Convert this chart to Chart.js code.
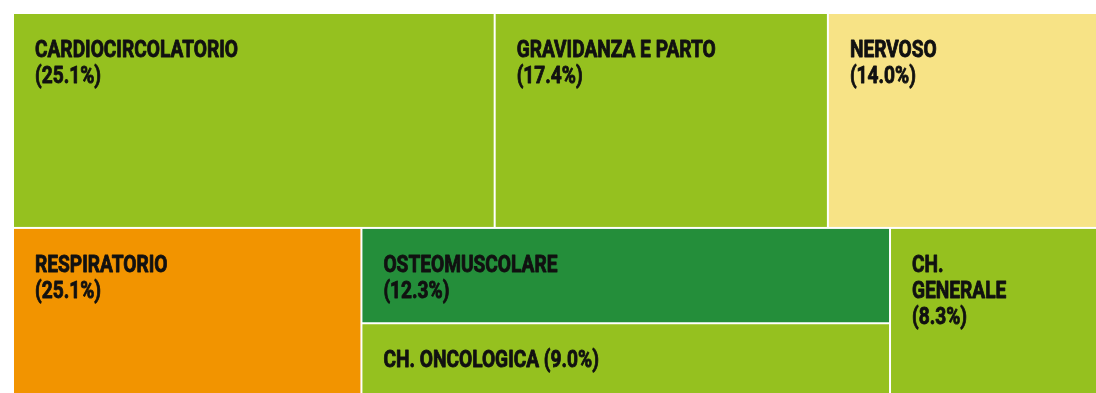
<!DOCTYPE html>
<html>
<head>
<meta charset="utf-8">
<script src="https://cdn.jsdelivr.net/npm/chart.js@4/dist/chart.umd.min.js"></script>
<style>
  html, body { margin: 0; padding: 0; background: #fff; }
  #wrap { width: 1096px; height: 393px; }
</style>
</head>
<body>
<div id="wrap"><canvas id="treeChart"></canvas></div>
<script>
// categorie e quote (%)
const categories = ['CARDIOCIRCOLATORIO', 'GRAVIDANZA E PARTO', 'NERVOSO', 'RESPIRATORIO', 'OSTEOMUSCOLARE', 'CH. ONCOLOGICA', 'CH. GENERALE'];
const values = [25.1, 17.4, 14.0, 14.0, 12.3, 9.0, 8.3];
const pctLabels = ['25.1%', '17.4%', '14.0%', '25.1%', '12.3%', '9.0%', '8.3%'];
const colors = ['#95c11f', '#95c11f', '#f7e386', '#f29400', '#248e3a', '#95c11f', '#95c11f'];
// righe del treemap: indici, i sotto-array sono colonne impilate
const rows = [[0, 1, 2], [3, [4, 5], 6]];

const FONT = 'bold 24px Roboto, "DejaVu Sans Condensed", sans-serif';

function sumOf(node) {
    if (Array.isArray(node)) return node.reduce((s, n) => s + sumOf(n), 0);
    return values[node];
}

// slice and dice in unità dati (0..100 su entrambi gli assi)
function layout() {
    const cells = [];
    const total = sumOf(rows);
    let y = 0;
    rows.forEach(row => {
        const rh = sumOf(row) / total * 100;
        let x = 0;
        row.forEach(node => {
            const cw = sumOf(node) / sumOf(row) * 100;
            if (Array.isArray(node)) {
                let yy = y;
                node.forEach(i => {
                    const h = values[i] / sumOf(node) * rh;
                    cells.push({ i: i, x0: x, x1: x + cw, y0: yy, y1: yy + h });
                    yy += h;
                });
            } else {
                cells.push({ i: node, x0: x, x1: x + cw, y0: y, y1: y + rh });
            }
            x += cw;
        });
        y += rh;
    });
    return cells;
}

function wrapWords(ctx, text, maxW, sx) {
    const words = text.split(' ');
    const lines = [];
    let cur = '';
    words.forEach(w => {
        const test = cur ? cur + ' ' + w : w;
        if (cur && ctx.measureText(test).width * sx > maxW) {
            lines.push(cur);
            cur = w;
        } else {
            cur = test;
        }
    });
    if (cur) lines.push(cur);
    return lines;
}

const treemapPlugin = {
    id: 'treemapCells',
    afterDatasetsDraw(chart) {
        const ctx = chart.ctx;
        const xs = chart.scales.x, ys = chart.scales.y;
        const area = chart.chartArea;
        ctx.save();
        ctx.font = FONT;
        // carattere condensato: stringo in orizzontale
        const sx = 203 / ctx.measureText('CARDIOCIRCOLATORIO').width;
        layout().forEach(c => {
            let px0 = xs.getPixelForValue(c.x0), px1 = xs.getPixelForValue(c.x1);
            let py0 = ys.getPixelForValue(c.y0), py1 = ys.getPixelForValue(c.y1);
            // 1px di bianco sui lati interni -> righe da 2px tra le celle
            if (px0 > area.left + 0.5) px0 += 1;
            if (px1 < area.right - 0.5) px1 -= 1;
            if (py0 > area.top + 0.5) py0 += 1;
            if (py1 < area.bottom - 0.5) py1 -= 1;
            ctx.fillStyle = colors[c.i];
            ctx.fillRect(px0, py0, px1 - px0, py1 - py0);

            // etichetta
            const w = px1 - px0, h = py1 - py0;
            ctx.fillStyle = '#111';
            ctx.strokeStyle = '#111';
            ctx.lineWidth = 0.9;
            ctx.lineJoin = 'round';
            ctx.textBaseline = 'alphabetic';
            const pad = 21;
            let lines = wrapWords(ctx, categories[c.i], w - 80, sx);
            const pct = '(' + pctLabels[c.i] + ')';
            if (25 + 17 + lines.length * 26 + 17 <= h) lines.push(pct);
            else lines[lines.length - 1] += ' ' + pct;
            lines.forEach((ln, k) => {
                ctx.save();
                ctx.translate(px0 + pad, py0 + 43 + k * 26);
                ctx.scale(sx, 1);
                ctx.fillText(ln, 0, 0);
                ctx.strokeText(ln, 0, 0);
                ctx.restore();
            });
        });
        ctx.restore();
    }
};

new Chart(document.getElementById('treeChart'), {
    type: 'scatter',
    data: { datasets: [{ data: [] }] },
    options: {
        responsive: true,
        maintainAspectRatio: false,
        animation: false,
        layout: { padding: { left: 14, top: 14, right: 0, bottom: 0 } },
        plugins: { legend: { display: false }, tooltip: { enabled: false } },
        scales: {
            x: { type: 'linear', min: 0, max: 100, display: false },
            y: { type: 'linear', min: 0, max: 100, reverse: true, display: false }
        }
    },
    plugins: [treemapPlugin]
});
</script>
</body>
</html>
